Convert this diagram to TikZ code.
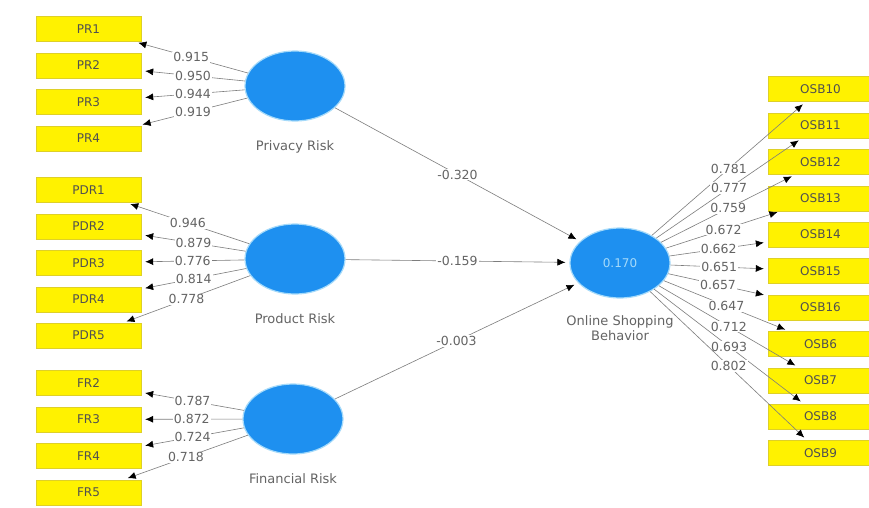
\documentclass[tikz,border=0pt]{standalone}
\usepackage{fontspec}
\setmainfont{DejaVu Sans}
\usetikzlibrary{shapes.geometric, arrows.meta, positioning}
\definecolor{boxyellow}{RGB}{255,242,0}
\definecolor{boxedge}{RGB}{222,208,40}
\definecolor{lvblue}{RGB}{30,144,240}
\definecolor{lvglow}{RGB}{165,218,250}
\definecolor{linegray}{RGB}{125,125,125}
\definecolor{textgray}{RGB}{100,100,100}
\tikzstyle{indicator} = [rectangle, draw=boxedge, fill=boxyellow, minimum width=105pt, minimum height=25pt, text=textgray!80!black, font=\fontsize{12}{14}\selectfont]
\tikzstyle{latent} = [ellipse, draw=lvglow, line width=1.2pt, fill=lvblue, minimum width=100pt, minimum height=70pt, text=lvglow, font=\fontsize{12}{14}\selectfont]
\tikzstyle{caption} = [align=center, text=textgray, font=\fontsize{13}{15}\selectfont]
\tikzstyle{arrow} = [draw=linegray, line width=0.6pt, shorten >=4pt, -{Latex[length=8pt,width=7pt,color=black]}]
\tikzstyle{loading} = [fill=white, inner sep=1pt, text=textgray, font=\fontsize{12.5}{14}\selectfont]

\begin{document}
\begin{tikzpicture}[x=1pt, y=-1pt, node distance = 11pt]
		\useasboundingbox (0,0) rectangle (869,507);
		\clip (0,0) rectangle (869,507);
		\fill [white] (0,0) rectangle (869,507);
		% latent variables
		\node (PrivacyRisk) [latent] at (295,86) {};
		\node (ProductRisk) [latent] at (295,259) {};
		\node (FinancialRisk) [latent] at (293,419) {};
		\node (OSB) [latent] at (620,263) {0.170};
		\node (PrivacyLabel) [caption, below = 15pt of PrivacyRisk] {Privacy Risk};
		\node (ProductLabel) [caption, below = 15pt of ProductRisk] {Product Risk};
		\node (FinancialLabel) [caption, below = 15pt of FinancialRisk] {Financial Risk};
		\node (OSBLabel) [caption, below = 13pt of OSB] {Online Shopping\\Behavior};
		% indicators, left
		\node (PR1) [indicator] at (88.5,29) {PR1};
		\node (PR2) [indicator, below = of PR1] {PR2};
		\node (PR3) [indicator, below = of PR2] {PR3};
		\node (PR4) [indicator, below = of PR3] {PR4};
		\node (PDR1) [indicator] at (88.5,190) {PDR1};
		\node (PDR2) [indicator, below = of PDR1] {PDR2};
		\node (PDR3) [indicator, below = of PDR2] {PDR3};
		\node (PDR4) [indicator, below = of PDR3] {PDR4};
		\node (PDR5) [indicator, below = of PDR4] {PDR5};
		\node (FR2) [indicator] at (88.5,383) {FR2};
		\node (FR3) [indicator, below = of FR2] {FR3};
		\node (FR4) [indicator, below = of FR3] {FR4};
		\node (FR5) [indicator, below = of FR4] {FR5};
		% indicators, right
		\node (OSB10) [indicator] at (820.5,89) {OSB10};
		\node (OSB11) [indicator, below = of OSB10] {OSB11};
		\node (OSB12) [indicator, below = of OSB11] {OSB12};
		\node (OSB13) [indicator, below = of OSB12] {OSB13};
		\node (OSB14) [indicator, below = of OSB13] {OSB14};
		\node (OSB15) [indicator, below = of OSB14] {OSB15};
		\node (OSB16) [indicator, below = of OSB15] {OSB16};
		\node (OSB6) [indicator, below = of OSB16] {OSB6};
		\node (OSB7) [indicator, below = of OSB6] {OSB7};
		\node (OSB8) [indicator, below = of OSB7] {OSB8};
		\node (OSB9) [indicator, below = of OSB8] {OSB9};
		% inner model
		\draw [arrow] (PrivacyRisk) -- node [loading] {-0.320} (OSB);
		\draw [arrow] (ProductRisk) -- node [loading] {-0.159} (OSB);
		\draw [arrow] (FinancialRisk) -- node [loading] {-0.003} (OSB);
		% outer loadings
		\draw [arrow] (PrivacyRisk) -- node [loading] {0.915} (PR1);
		\draw [arrow] (PrivacyRisk) -- node [loading] {0.950} (PR2);
		\draw [arrow] (PrivacyRisk) -- node [loading] {0.944} (PR3);
		\draw [arrow] (PrivacyRisk) -- node [loading] {0.919} (PR4);
		\draw [arrow] (ProductRisk) -- node [loading] {0.946} (PDR1);
		\draw [arrow] (ProductRisk) -- node [loading] {0.879} (PDR2);
		\draw [arrow] (ProductRisk) -- node [loading] {0.776} (PDR3);
		\draw [arrow] (ProductRisk) -- node [loading] {0.814} (PDR4);
		\draw [arrow] (ProductRisk) -- node [loading] {0.778} (PDR5);
		\draw [arrow] (FinancialRisk) -- node [loading] {0.787} (FR2);
		\draw [arrow] (FinancialRisk) -- node [loading] {0.872} (FR3);
		\draw [arrow] (FinancialRisk) -- node [loading] {0.724} (FR4);
		\draw [arrow] (FinancialRisk) -- node [loading] {0.718} (FR5);
		\draw [arrow] (OSB) -- node [loading] {0.781} (OSB10);
		\draw [arrow] (OSB) -- node [loading] {0.777} (OSB11);
		\draw [arrow] (OSB) -- node [loading] {0.759} (OSB12);
		\draw [arrow] (OSB) -- node [loading] {0.672} (OSB13);
		\draw [arrow] (OSB) -- node [loading] {0.662} (OSB14);
		\draw [arrow] (OSB) -- node [loading] {0.651} (OSB15);
		\draw [arrow] (OSB) -- node [loading] {0.657} (OSB16);
		\draw [arrow] (OSB) -- node [loading] {0.647} (OSB6);
		\draw [arrow] (OSB) -- node [loading] {0.712} (OSB7);
		\draw [arrow] (OSB) -- node [loading] {0.693} (OSB8);
		\draw [arrow] (OSB) -- node [loading] {0.802} (OSB9);
		\end{tikzpicture}
\end{document}
